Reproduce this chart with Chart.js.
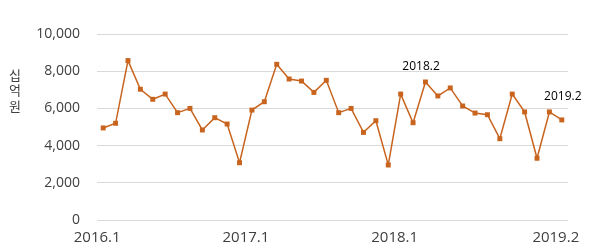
<!DOCTYPE html>
<html lang="ko">
<head>
    <meta charset="UTF-8">
    <title>십억 원 월별 추이</title>
    <script src="https://cdn.jsdelivr.net/npm/chart.js"></script>
    <style>
        html, body { margin: 0; padding: 0; background: #fff; }
        #wrap { width: 597px; height: 251px; position: relative; }
    </style>
</head>
<body>

<div id="wrap">
    <canvas id="lineChart"></canvas>
</div>

<script>
// 월별 라벨 (2016.1 ~ 2019.2)
var months = [
    '2016.1','2016.2','2016.3','2016.4','2016.5','2016.6','2016.7','2016.8','2016.9','2016.10','2016.11','2016.12',
    '2017.1','2017.2','2017.3','2017.4','2017.5','2017.6','2017.7','2017.8','2017.9','2017.10','2017.11','2017.12',
    '2018.1','2018.2','2018.3','2018.4','2018.5','2018.6','2018.7','2018.8','2018.9','2018.10','2018.11','2018.12',
    '2019.1','2019.2'
];

// 값 (십억 원)
var amounts = [
    4950, 5200, 8570, 7030, 6490, 6770, 5770, 6000, 4840, 5500, 5160, 3080,
    5910, 6360, 8370, 7580, 7470, 6860, 7510, 5770, 6000, 4710, 5340, 2960,
    6770, 5230, 7420, 6670, 7100, 6130, 5750, 5660, 4370, 6770, 5810, 3320,
    5810, 5380
];

// x축에 보이는 라벨
var shownTicks = ['2016.1', '2017.1', '2018.1', '2019.2'];

// 그래프 위에 표시하는 라벨
var callouts = ['2018.2', '2019.2'];
var calloutShift = { '2018.2': [8, -56], '2019.2': [1, -23] };

var yTitle = ['십', '억', '원'];

var lineColor = 'rgb(200, 100, 30)';

// 세로 축 제목 + 데이터 라벨
var extraText = {
    id: 'extraText',
    afterDatasetsDraw: function(chart) {
        var ctx = chart.ctx;
        var meta = chart.getDatasetMeta(0);
        ctx.save();
        ctx.fillStyle = '#000';
        ctx.font = '12px "Open Sans"';
        ctx.textAlign = 'center';
        ctx.textBaseline = 'middle';
        callouts.forEach(function(lbl) {
            var i = months.indexOf(lbl);
            var pt = meta.data[i];
            var s = calloutShift[lbl];
            ctx.fillText(lbl, pt.x + s[0], pt.y + s[1]);
        });

        ctx.fillStyle = '#404040';
        ctx.font = '13px "Noto Sans CJK KR"';
        for (var k = 0; k < yTitle.length; k++) {
            ctx.fillText(yTitle[k], 15, 75 + k * 15.5);
        }
        ctx.restore();
    }
};

var ctx = document.getElementById('lineChart').getContext('2d');

new Chart(ctx, {
    type: 'line',
    data: {
        labels: months,
        datasets: [{
            data: amounts,
            borderColor: lineColor,
            backgroundColor: lineColor,
            borderWidth: 1.5,
            pointStyle: 'rect',
            pointRadius: 3.5,
            pointBorderWidth: 0,
            tension: 0,
            fill: false
        }]
    },
    options: {
        responsive: true,
        maintainAspectRatio: false,
        animation: false,
        layout: {
            padding: { left: 0, right: 29, top: 34, bottom: 0 }
        },
        plugins: {
            legend: { display: false },
            tooltip: { enabled: false }
        },
        scales: {
            x: {
                offset: true,
                grid: { display: false, drawTicks: false },
                border: { display: false },
                ticks: {
                    autoSkip: false,
                    maxRotation: 0,
                    padding: 9,
                    labelOffset: -6,
                    color: '#404040',
                    font: { family: '"Open Sans"', size: 15 },
                    callback: function(val, idx) {
                        var lbl = months[idx];
                        return shownTicks.indexOf(lbl) >= 0 ? lbl : '';
                    }
                },
                afterFit: function(scale) { scale.height = 31; }
            },
            y: {
                min: 0,
                max: 10000,
                grid: { color: '#d9d9d9', lineWidth: 1, drawTicks: false },
                border: { display: false },
                ticks: {
                    stepSize: 2000,
                    padding: 17,
                    color: '#404040',
                    font: { family: '"Open Sans"', size: 14 },
                    callback: function(v) { return v.toLocaleString('en-US'); }
                },
                afterFit: function(scale) { scale.width = 97; }
            }
        }
    },
    plugins: [extraText]
});
</script>

</body>
</html>
